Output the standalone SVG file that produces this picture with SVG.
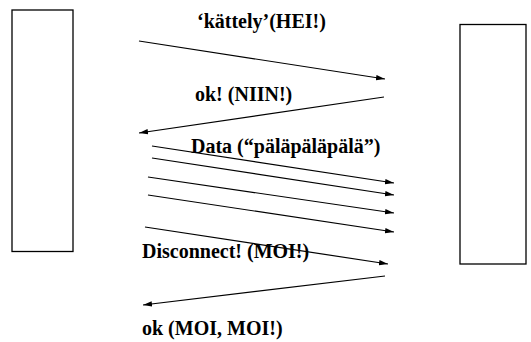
<svg xmlns="http://www.w3.org/2000/svg" width="531" height="342" viewBox="0 0 531 342">
<style>
.box{fill:#fff;stroke:#000;stroke-width:1.3}
.conn line{stroke:#000;stroke-width:1.2}
text{font-family:"Liberation Serif","Times New Roman",serif;font-weight:bold;font-size:20px;fill:#000}
</style>
<defs>
<marker id="ah" viewBox="0 0 10 6" refX="10" refY="3" markerWidth="9" markerHeight="6" markerUnits="userSpaceOnUse" orient="auto">
<path d="M0,0 L10,3 L0,6 Z" fill="#000"/>
</marker>
</defs>
<rect width="531" height="342" fill="#fff"/>
<g id="left-node"><rect class="box" x="12" y="10" width="61" height="241.5"/></g>
<g id="right-node"><rect class="box" x="460" y="24.5" width="66" height="239.5"/></g>
<g id="connectors" class="conn">
<line x1="139" y1="41" x2="385" y2="79" marker-end="url(#ah)"/>
<line x1="384" y1="97" x2="139" y2="133" marker-end="url(#ah)"/>
<line x1="152" y1="146" x2="394" y2="183" marker-end="url(#ah)"/>
<line x1="152" y1="158" x2="394" y2="195" marker-end="url(#ah)"/>
<line x1="148" y1="177" x2="394" y2="213" marker-end="url(#ah)"/>
<line x1="148" y1="195" x2="394" y2="232" marker-end="url(#ah)"/>
<line x1="145" y1="227" x2="388" y2="264" marker-end="url(#ah)"/>
<line x1="385" y1="276" x2="143" y2="305" marker-end="url(#ah)"/>
</g>
<g id="labels">
<text x="197" y="28">‘kättely’(HEI!)</text>
<text x="195" y="101">ok! (NIIN!)</text>
<text x="191" y="153">Data (“päläpäläpälä”)</text>
<text x="142" y="258">Disconnect! (MOI!)</text>
<text x="142" y="335">ok (MOI, MOI!)</text>
</g>
</svg>
